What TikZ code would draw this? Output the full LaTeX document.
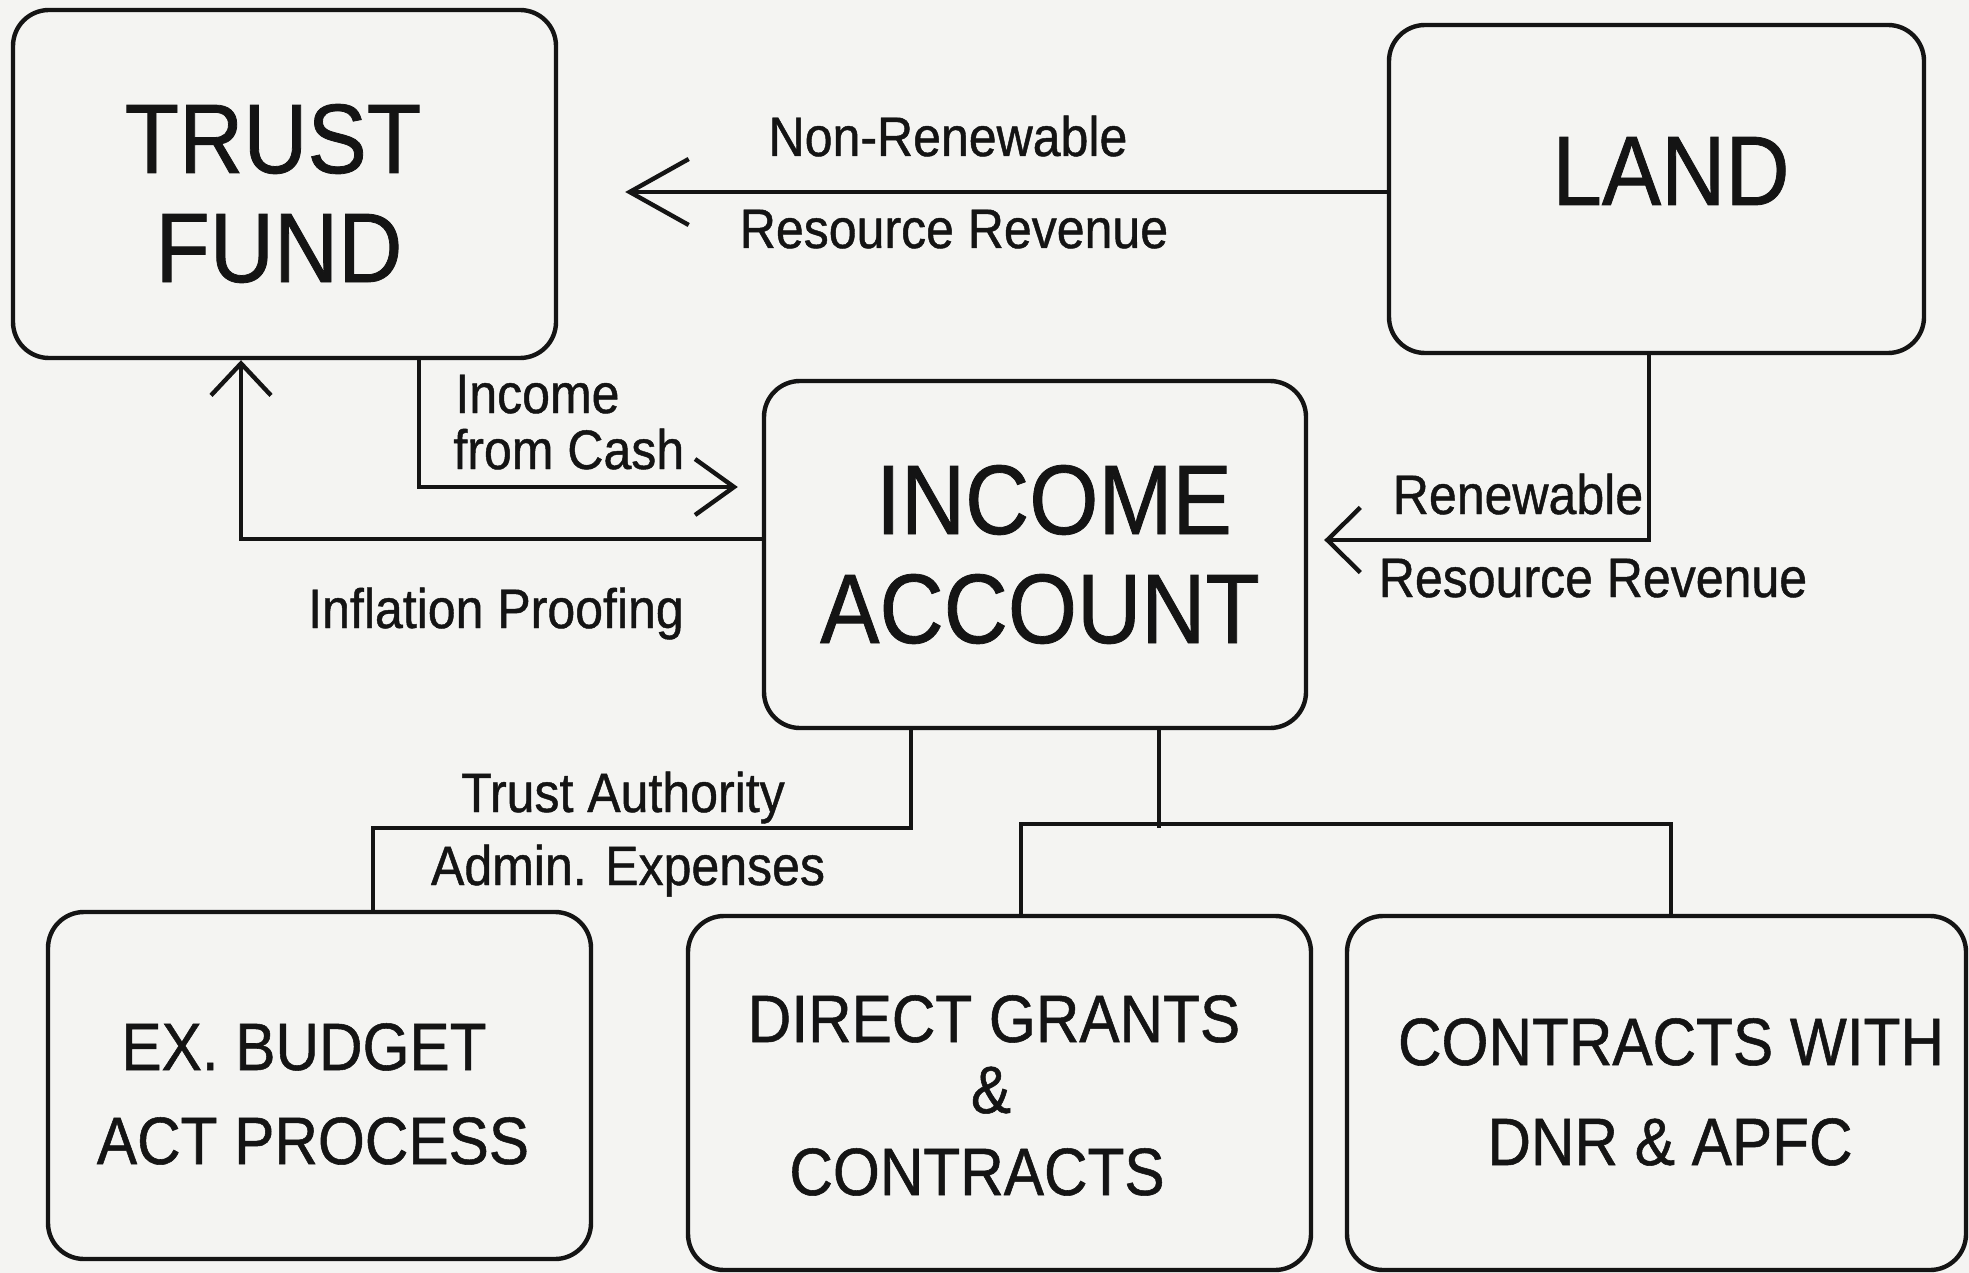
\documentclass[tikz,border=0pt]{standalone}
\usepackage{fontspec}
\setmainfont{Liberation Sans}[FakeStretch=0.9, FakeBold=0.8]
\usetikzlibrary{arrows.meta,calc}
\definecolor{paper}{RGB}{244,244,242}
\definecolor{ink}{RGB}{20,20,20}
\tikzset{
  box/.style={draw=ink, line width=2.2pt, rounded corners=18pt, fill=none},
  wire/.style={draw=ink, line width=2.2pt},
  bigtxt/.style={anchor=base, inner sep=0pt, text=ink, font=\fontsize{49.4}{52}\selectfont},
  midtxt/.style={anchor=base, inner sep=0pt, text=ink, font=\fontsize{33.5}{36}\selectfont},
  lbltxt/.style={anchor=base, inner sep=0pt, text=ink, font=\fontsize{27.8}{30}\selectfont},
  arrA/.style={wire, -{Straight Barb[length=29.5pt, width=33pt, line width=2.2pt]}},
  arrB/.style={wire, -{Straight Barb[length=19.5pt, width=28pt, line width=2.2pt]}},
  arrC/.style={wire, -{Straight Barb[length=16pt, width=30pt, line width=2.2pt]}},
  arrD/.style={wire, -{Straight Barb[length=16.5pt, width=32.5pt, line width=2.2pt]}},
}
\begin{document}
\begin{tikzpicture}[x=0.5pt, y=-0.5pt]
  \fill[paper] (0,0) rectangle (1969,1273);
  \useasboundingbox (0,0) rectangle (1969,1273);

  % boxes
  \node[box, minimum width=271.5pt, minimum height=174pt] (trust) at (284.5,184) {};
  \node[box, minimum width=267.5pt, minimum height=164pt] (land) at (1656.5,189) {};
  \node[box, minimum width=271pt, minimum height=173.5pt] (income) at (1035,554.5) {};
  \node[box, minimum width=271.5pt, minimum height=173.5pt] (exb) at (319.5,1085.5) {};
  \node[box, minimum width=311.5pt, minimum height=177pt] (direct) at (999.5,1093) {};
  \node[box, minimum width=309.5pt, minimum height=177pt] (contracts) at (1656.5,1093) {};

  % box texts
  \node[bigtxt] (tTrust) at (273,173) {TRUST};
  \node[bigtxt] (tFund) at (279,282) {FUND};
  \node[bigtxt] (tLand) at (1671,205) {LAND};
  \node[bigtxt] (tIncome) at (1054,534) {INCOME};
  \node[bigtxt] (tAccount) at (1040,643) {ACCOUNT};
  \node[midtxt] (tEx) at (304,1070) {EX. BUDGET};
  \node[midtxt] (tAct) at (313,1164) {ACT PROCESS};
  \node[midtxt] (tDirect) at (994,1042) {DIRECT GRANTS};
  \node[midtxt] (tAmp) at (991,1113) {\&};
  \node[midtxt] (tContr) at (977,1195) {CONTRACTS};
  \node[midtxt] (tCW) at (1671,1065) {CONTRACTS WITH};
  \node[midtxt] (tDNR) at (1670,1165) {DNR \& APFC};

  % connectors
  \draw[arrA] ($(land.west)+(0,3)$) -- ($(land.west -| trust.east)+(67,3)$);
  \draw[arrB] ($(trust.south)+(134.5,0)$) |- ($(income.west)+(-24,-67.5)$);
  \draw[arrC] ($(income.west)+(0,-15.5)$) -| ($(trust.south)+(-43.5,0)$);
  \draw[arrD] ($(land.south)+(-7.5,0)$) |- ($(income.east)+(16,-14.5)$);
  \draw[wire] ($(income.south)+(-124,0)$) -- ++(0,98) -| ($(exb.north)+(53.5,0)$);
  \draw[wire] ($(income.south)+(124,0)$) -- ++(0,98);
  \draw[wire] ($(direct.north)+(21.5,0)$) -- ++(0,-90) -| ($(contracts.north)+(14.5,0)$);

  % connector labels
  \node[lbltxt] (lNon) at (948,156) {Non-Renewable};
  \node[lbltxt] (lRes1) at (954,248) {Resource Revenue};
  \node[lbltxt, anchor=base west] (lInc) at (455,413) {Income};
  \node[lbltxt, anchor=base west] (lCash) at (453,469) {from Cash};
  \node[lbltxt] (lInfl) at (496,628) {Inflation Proofing};
  \node[lbltxt] (lRen) at (1518,514) {Renewable};
  \node[lbltxt] (lRes2) at (1593,597) {Resource Revenue};
  \node[lbltxt] (lTA) at (623,812) {Trust Authority};
  \node[lbltxt] (lAdm) at (628,885) {Admin. Expenses};
\end{tikzpicture}
\end{document}
